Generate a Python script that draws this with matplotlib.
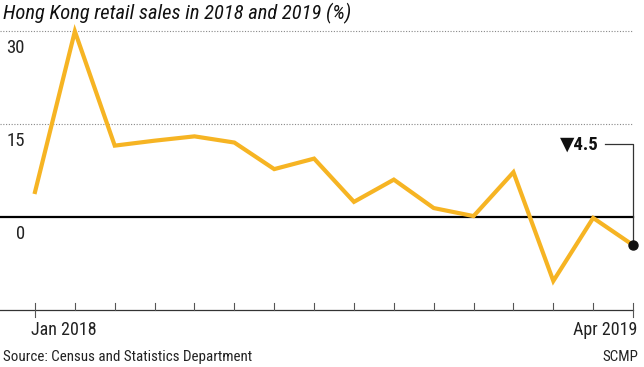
import matplotlib
matplotlib.use("Agg")
import matplotlib.pyplot as plt

months = ["Jan 2018", "Feb", "Mar", "Apr", "May", "Jun", "Jul", "Aug", "Sep", "Oct",
          "Nov", "Dec", "Jan 2019", "Feb", "Mar", "Apr 2019"]
values = [4.0, 30.0, 11.5, 12.3, 13.0, 12.0, 7.7, 9.4, 2.4, 6.0, 1.4, 0.1, 7.2, -10.4, -0.2, -4.6]
yticks = [0, 15, 30]
ytick_labels = ["0", "15", "30"]
title = "Hong Kong retail sales in 2018 and 2019 (%)"
source = "Source: Census and Statistics Department"
credit = "SCMP"
annot = "\u25bc4.5"

FONT = ["Roboto Condensed", "DejaVu Sans"]
plt.rcParams["font.family"] = FONT

W, H = 644, 367
fig = plt.figure(figsize=(W / 100, H / 100), dpi=100)
ax = fig.add_axes([0, 0, 1, 1])
ax.set_axis_off()

# pixel mapping
x0px, dxpx = 35.0, 39.87
y0px, dypx = 216.7, 6.18
ax.set_xlim(-x0px / dxpx, (W - x0px) / dxpx)
ax.set_ylim(-(H - y0px) / dypx, y0px / dypx)

n = len(values)
xs = list(range(n))
xend = n - 1 + 0.0
xl = ax.get_xlim()[0]

# gridlines
for v in yticks:
    if v == 0:
        ax.plot([xl, xend], [0, 0], color="black", lw=1.6, zorder=2)
    else:
        ax.plot([xl, xend], [v, v], color="#888888", lw=0.8,
                linestyle=(0, (1, 1.5)), zorder=1)

# y tick labels (below gridlines)
for v, lab in zip(yticks, ytick_labels):
    ax.text(-0.25, v - 1.3, lab, ha="right", va="top", fontsize=13.5, color="#222222")

# line
ax.plot(xs, values, color="#F6B423", lw=3.0, solid_joinstyle="miter", zorder=3)
ax.plot([xs[-1]], [values[-1]], marker="o", color="#111111", ms=6.5, zorder=4)

# annotation
ann_y = 11.7
ax.plot([14.3, xs[-1], xs[-1]], [ann_y, ann_y, values[-1]], color="#333333", lw=0.9, zorder=2)
ax.text(14.15, ann_y, annot, ha="right", va="center", fontsize=13.5, fontweight="bold",
        color="#111111")

# bottom axis
yax = -(310 - y0px) / dypx
ax.plot([xl, xend], [yax, yax], color="#333333", lw=0.9, zorder=2)
tick_up = 7 / dypx
for i in xs:
    if i in (0, n - 1):
        ax.plot([i, i], [yax - tick_up, yax + tick_up], color="#555555", lw=0.8)
    else:
        ax.plot([i, i], [yax, yax + tick_up], color="#555555", lw=0.8)

ylab = -(321 - y0px) / dypx
ax.text(-0.1, ylab, months[0], ha="left", va="top", fontsize=13, color="#222222")
ax.text(xs[-1] + 0.1, ylab, months[-1], ha="right", va="top", fontsize=13, color="#222222")

fig.text(3 / W, 1 - 361 / H, source, ha="left", va="baseline", fontsize=10.8, color="#222222")
fig.text(638 / W, 1 - 361 / H, credit, ha="right", va="baseline", fontsize=10.8, color="#222222")
fig.text(3 / W, 1 - 19 / H, title, ha="left", va="baseline", fontsize=14.8, style="italic",
         color="#111111")

fig.savefig("out.png", dpi=100)
